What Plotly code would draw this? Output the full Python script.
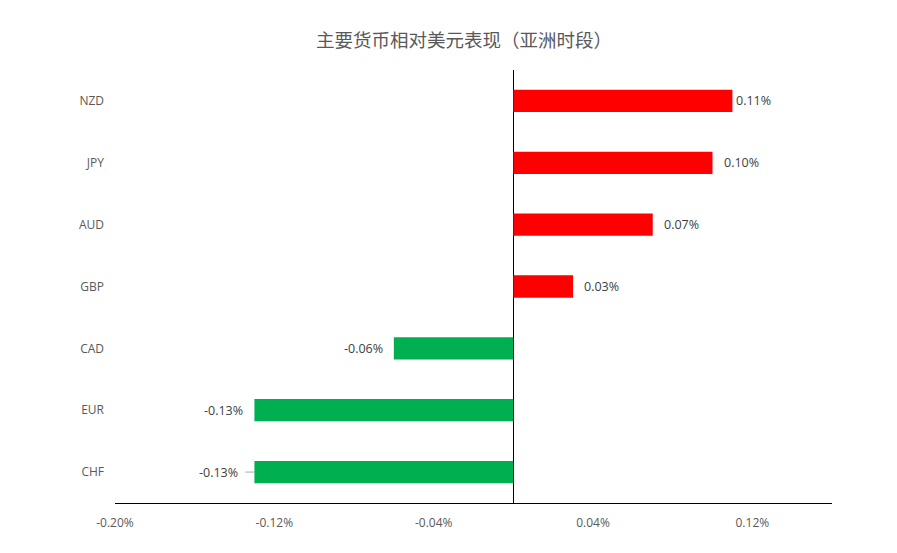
import plotly.graph_objects as go

currencies = ['NZD', 'JPY', 'AUD', 'GBP', 'CAD', 'EUR', 'CHF']
changes = [0.11, 0.10, 0.07, 0.03, -0.06, -0.13, -0.13]
labels = ['0.11%', '0.10%', '0.07%', '0.03%', '-0.06%', '-0.13%', '-0.13%']
tick_vals = [-0.20, -0.12, -0.04, 0.04, 0.12]
tick_text = ['-0.20%', '-0.12%', '-0.04%', '0.04%', '0.12%']

colors = ['#FF0000' if v > 0 else '#00B050' for v in changes]

fig = go.Figure()
fig.add_trace(go.Bar(
    x=changes, y=currencies, orientation='h',
    marker=dict(color=colors, line_width=0),
    width=0.36, hoverinfo='skip',
))

# data labels sit just outside the bar end, like the excel original
for cur, v, lab in zip(currencies, changes, labels):
    shift = 9 if v > 0 else -9
    if cur == 'NZD':
        shift = 2
    if cur == 'CHF':
        shift = -14
    fig.add_annotation(
        x=v, y=cur, text=lab, showarrow=False,
        xanchor='left' if v > 0 else 'right', xshift=shift,
        font=dict(size=12.5, color='#404040'),
    )
# little leader line on the CHF label
fig.add_shape(type='line', xref='x', yref='y', x0=-0.13, x1=-0.1345,
              y0='CHF', y1='CHF', line=dict(color='#A6A6A6', width=1))

fig.update_layout(
    width=889, height=545,
    margin=dict(l=107, r=65, t=62, b=50),
    paper_bgcolor='white', plot_bgcolor='white',
    font=dict(family='Open Sans, Noto Sans CJK SC', color='#595959', size=12),
    title=dict(text='主要货币相对美元表现（亚洲时段）', x=0.513, xanchor='center',
               y=0.94, yanchor='middle',
               font=dict(family='Noto Sans CJK SC', size=18.5, color='#595959')),
    showlegend=False,
    xaxis=dict(range=[-0.20, 0.16], tickvals=tick_vals, ticktext=tick_text,
               showgrid=False,
               zeroline=True, zerolinecolor='black', zerolinewidth=1,
               showline=True, linecolor='black', linewidth=1,
               ticks='', ticklabelstandoff=9, tickfont=dict(size=12)),
    yaxis=dict(categoryorder='array', categoryarray=currencies[::-1],
               showgrid=False, showline=False, ticks='',
               ticklabelstandoff=10, tickfont=dict(size=12)),
)

fig.write_html("out.html")
